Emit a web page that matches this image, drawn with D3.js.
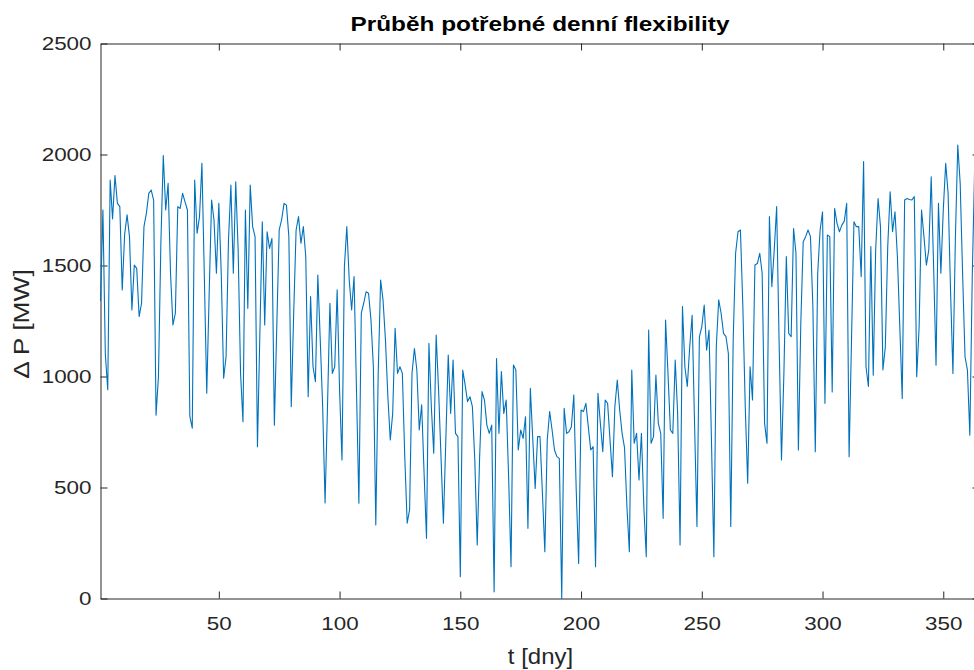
<!DOCTYPE html>
<html>
<head>
<meta charset="utf-8">
<script src="https://cdn.jsdelivr.net/npm/d3@7/dist/d3.min.js"></script>
<style>
body { margin: 0; background: #fff; }
svg { display: block; }
text { font-family: "Liberation Sans", Arial, Helvetica, sans-serif; }
</style>
</head>
<body>
<div id="chart"></div>
<script>
// denni hodnoty potrebne flexibility [MW], den 1..365
var flex = [
  1340,1750,1100,940,1885,1710,1905,1780,1765,1390,
  1640,1728,1630,1300,1502,1487,1270,1330,1675,1735,
  1825,1840,1795,826,1000,1600,1995,1750,1870,1465,
  1232,1285,1765,1757,1825,1787,1750,820,767,1885,
  1645,1720,1960,1450,925,1375,1795,1705,1465,1780,
  1465,992,1090,1615,1862,1465,1877,1570,1014,796,
  1750,1307,1862,1675,1630,684,1195,1697,1232,1652,
  1577,1622,781,1225,1660,1705,1780,1772,1630,864,
  1285,1660,1720,1600,1675,1540,909,1360,1045,977,
  1457,1165,864,430,864,1330,1014,1044,1390,940,
  624,1495,1675,1435,1300,1450,940,429,1285,1330,
  1382,1375,1255,1044,331,1014,1435,1345,1165,909,
  714,834,1217,1014,1044,1014,639,339,400,1014,
  1126,1029,759,872,564,271,1149,864,654,1187,
  940,639,339,714,1097,834,1074,744,729,98,
  1029,962,887,909,864,624,241,639,932,894,
  781,744,781,30,1081,744,1022,834,894,549,
  143,1052,1029,669,759,721,819,316,947,720,
  496,729,729,474,211,714,842,759,669,639,
  631,0,857,744,751,774,917,489,158,849,
  842,879,774,669,684,143,924,789,661,894,
  879,714,549,864,984,849,744,680,413,211,
  1029,699,744,534,744,413,188,1209,699,729,
  1006,789,744,361,1254,1014,759,744,1074,834,
  241,1315,1044,955,1134,1276,789,324,1179,1224,
  1322,1119,1209,714,188,1134,1345,1285,1194,1180,
  1104,324,1164,1555,1652,1660,1315,864,519,1044,
  894,1502,1509,1555,1465,789,699,1720,1405,1570,
  1765,1164,624,1014,1540,1194,1179,1667,1555,669,
  1239,1607,1630,1660,1630,1315,661,1465,1660,1742,
  879,1637,1630,930,1757,1690,1652,1682,1700,1780,
  639,1164,1697,1675,1675,1450,1968,1044,955,1585,
  1006,1570,1802,1675,1029,1134,1585,1832,1652,1742,
  1540,1224,901,1795,1802,1797,1795,1810,999,1224,
  1750,1630,1502,1570,1900,1495,1051,1780,1465,1750,
  1960,1825,1390,1014,1615,2043,1870,1465,1089,1029,
  736,1450,1950,1800,1600
];
var days = flex.map(function(v, i) { return i + 1; });

var xTicks = [50, 100, 150, 200, 250, 300, 350];
var yTicks = [0, 500, 1000, 1500, 2000, 2500];

var title = "Průběh potřebné denní flexibility";
var xLabel = "t [dny]";
var yLabel = "\u0394 P [MW]";

var W = 974, H = 670;
var margin = {top: 43.5, left: 100.5, bottom: 71.5},
    plotRight = 979.5;

var svg = d3.select("#chart")
  .append("svg")
    .attr("width", W)
    .attr("height", H);

var x = d3.scaleLinear()
  .domain([1, 365])
  .range([margin.left, plotRight]);

var y = d3.scaleLinear()
  .domain([0, 2500])
  .range([H - margin.bottom, margin.top]);

var axisColor = "#262626";
var tickLen = 7;
var stretch = 1.18; // puvodni font je sirsi nez Arial

// osy (MATLAB styl - ticky dovnitr, ramecek kolem)
var gBottom = svg.append("g")
  .attr("transform", "translate(0," + y(0) + ")")
  .call(d3.axisBottom(x).tickValues(xTicks).tickSizeInner(-tickLen).tickSizeOuter(0).tickPadding(18));
var gTop = svg.append("g")
  .attr("transform", "translate(0," + y(2500) + ")")
  .call(d3.axisTop(x).tickValues(xTicks).tickSizeInner(-tickLen).tickSizeOuter(0).tickFormat(""));
var gLeft = svg.append("g")
  .attr("transform", "translate(" + x(1) + ",0)")
  .call(d3.axisLeft(y).tickValues(yTicks).tickFormat(d3.format("d")).tickSizeInner(-tickLen).tickSizeOuter(0).tickPadding(9));
var gRight = svg.append("g")
  .attr("transform", "translate(" + plotRight + ",0)")
  .call(d3.axisRight(y).tickValues(yTicks).tickSizeInner(-tickLen).tickSizeOuter(0).tickFormat(""));

[gBottom, gTop, gLeft, gRight].forEach(function(g) {
  g.selectAll("path, line").attr("stroke", axisColor).attr("stroke-width", 1);
  g.selectAll("text")
    .attr("fill", axisColor)
    .attr("transform", "scale(" + stretch + ",1)")
    .style("font-size", "19px")
    .style("font-family", "'Liberation Sans', Arial, sans-serif");
});
gLeft.selectAll("text").attr("x", -9 / stretch);

var line = d3.line()
  .x(function(d, i) { return x(days[i]); })
  .y(function(d) { return y(d); });

svg.append("path")
  .datum(flex)
  .attr("fill", "none")
  .attr("stroke", "#0072BD")
  .attr("stroke-width", 1.1)
  .attr("stroke-linejoin", "round")
  .attr("d", line);

svg.append("text")
  .attr("transform", "translate(" + 540 + ",31) scale(1.25,1)")
  .attr("text-anchor", "middle")
  .attr("fill", "#000")
  .style("font-size", "19.5px")
  .style("font-weight", "bold")
  .text(title);

svg.append("text")
  .attr("transform", "translate(" + 540.5 + ",664) scale(1.09,1)")
  .attr("text-anchor", "middle")
  .attr("fill", axisColor)
  .style("font-size", "22px")
  .text(xLabel);

svg.append("text")
  .attr("transform", "translate(29," + (y(1250) + 3) + ") rotate(-90) scale(1.2,1)")
  .attr("text-anchor", "middle")
  .attr("fill", axisColor)
  .style("font-size", "22px")
  .text(yLabel);
</script>
</body>
</html>
